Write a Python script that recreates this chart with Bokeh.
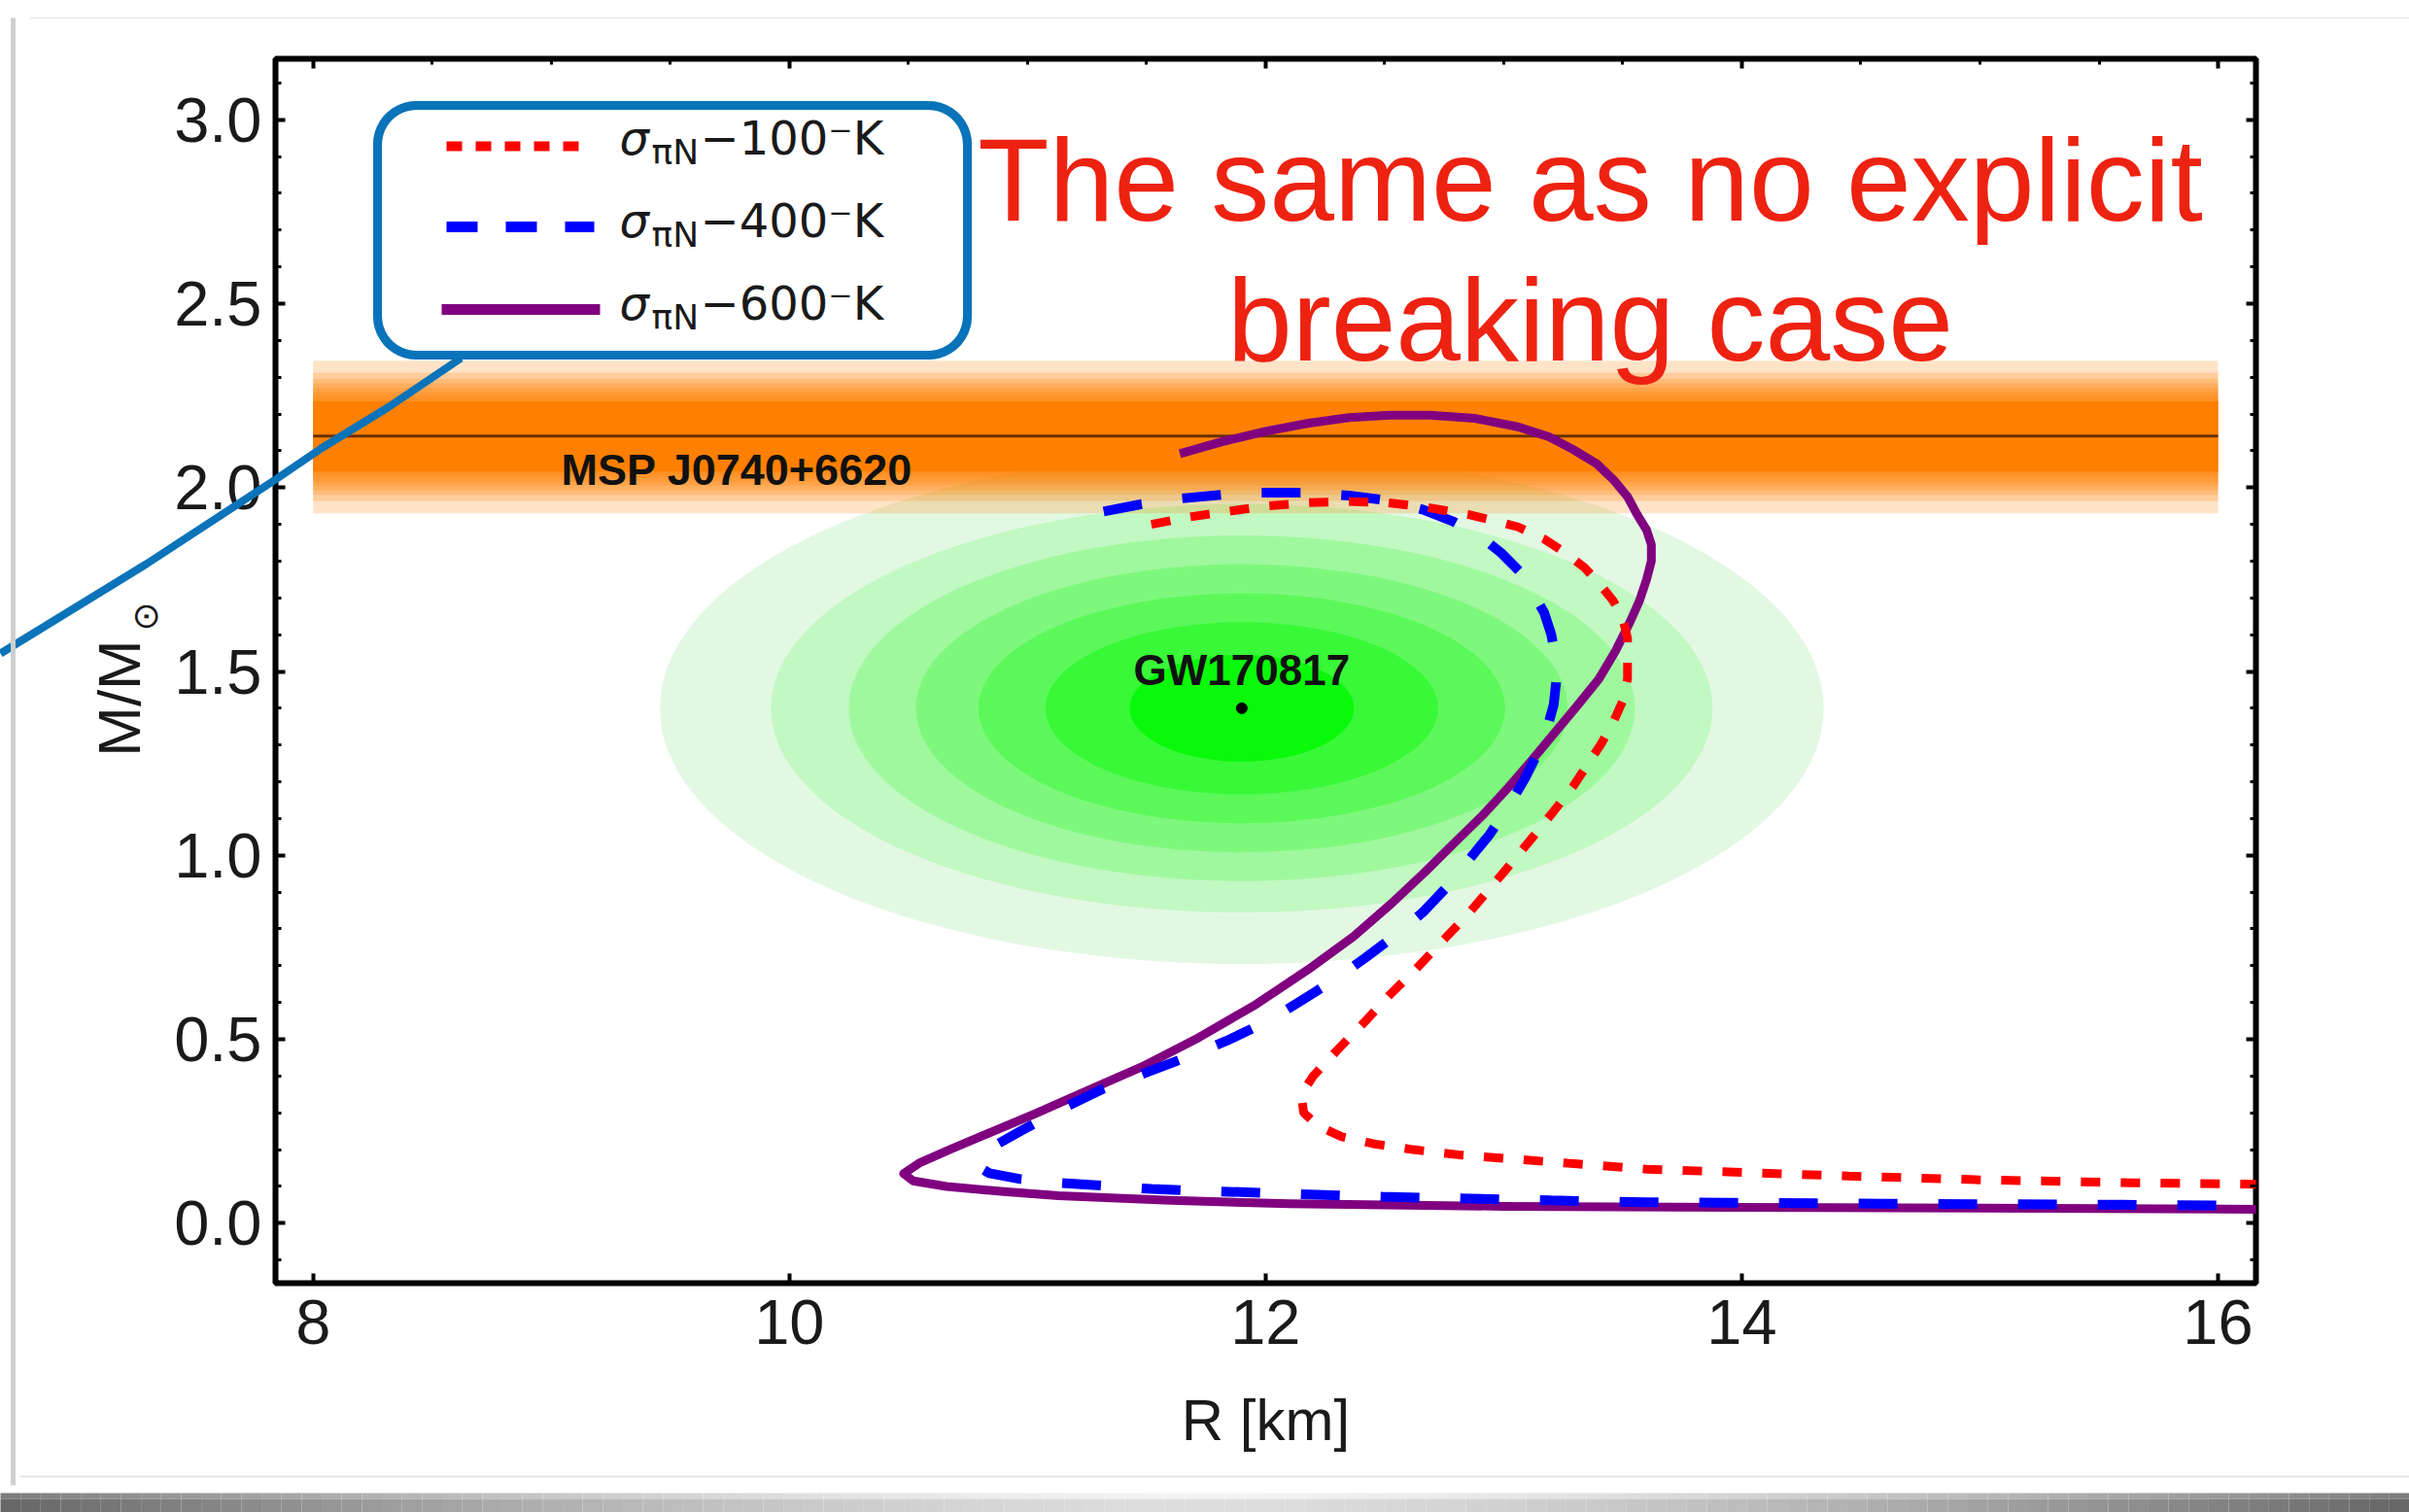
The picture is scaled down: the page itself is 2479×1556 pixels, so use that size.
import numpy as np
from bokeh.plotting import figure
from bokeh.models import Range1d, LinearAxis, FixedTicker, PrintfTickFormatter
from bokeh.core.properties import value
from bokeh.embed import file_html
from bokeh.resources import INLINE

# ---- mass-radius relations (R in km, M in solar masses) ----
r_sigma100 = [11.52, 11.68, 11.84, 12.01, 12.18, 12.35, 12.51, 12.68, 12.85, 12.96, 13.06, 13.17,
              13.26, 13.34, 13.40, 13.46, 13.50, 13.52, 13.52, 13.52, 13.50, 13.46, 13.41, 13.35,
              13.29, 13.21, 13.13, 13.04, 12.95, 12.85, 12.74, 12.63, 12.52, 12.42, 12.30, 12.20,
              12.15, 12.16, 12.22, 12.32, 12.46, 12.62, 12.81, 13.27, 13.60, 14.45, 15.00, 15.64,
              16.17]
m_sigma100 = [1.900, 1.920, 1.935, 1.950, 1.959, 1.962, 1.959, 1.946, 1.927, 1.910, 1.893, 1.860,
              1.822, 1.782, 1.740, 1.692, 1.644, 1.590, 1.539, 1.480, 1.420, 1.362, 1.304, 1.245,
              1.186, 1.120, 1.056, 0.985, 0.916, 0.840, 0.765, 0.690, 0.620, 0.550, 0.470, 0.400,
              0.350, 0.300, 0.265, 0.235, 0.215, 0.200, 0.186, 0.163, 0.147, 0.128, 0.118, 0.110,
              0.106]

r_sigma400 = [11.32, 11.48, 11.64, 11.91, 12.18, 12.35, 12.51, 12.66, 12.79, 12.90, 12.99, 13.07,
              13.12, 13.17, 13.20, 13.22, 13.22, 13.21, 13.18, 13.14, 13.09, 13.02, 12.94, 12.85,
              12.76, 12.66, 12.55, 12.42, 12.29, 12.15, 12.01, 11.85, 11.68, 11.50, 11.32, 11.14,
              10.97, 10.86, 10.80, 10.79, 10.84, 10.97, 11.13, 11.52, 12.00, 12.49, 13.20, 13.60,
              14.60, 15.60, 16.17]
m_sigma400 = [1.935, 1.955, 1.970, 1.986, 1.986, 1.978, 1.965, 1.940, 1.907, 1.868, 1.822, 1.770,
              1.716, 1.660, 1.600, 1.528, 1.470, 1.410, 1.340, 1.275, 1.210, 1.133, 1.056, 0.985,
              0.913, 0.845, 0.785, 0.722, 0.662, 0.605, 0.550, 0.500, 0.454, 0.410, 0.366, 0.310,
              0.250, 0.210, 0.180, 0.155, 0.136, 0.120, 0.110, 0.093, 0.082, 0.072, 0.062, 0.057,
              0.053, 0.050, 0.048]

r_sigma600 = [11.64, 11.82, 12.00, 12.18, 12.35, 12.52, 12.69, 12.88, 13.06, 13.19, 13.29, 13.39,
              13.46, 13.52, 13.56, 13.60, 13.62, 13.62, 13.60, 13.57, 13.53, 13.47, 13.40, 13.31,
              13.22, 13.12, 13.02, 12.91, 12.79, 12.67, 12.53, 12.37, 12.18, 11.96, 11.72, 11.48,
              11.24, 11.03, 10.85, 10.68, 10.55, 10.48, 10.52, 10.66, 10.90, 11.13, 11.60, 12.10,
              13.00, 14.00, 15.00, 16.17]
m_sigma600 = [2.092, 2.125, 2.153, 2.175, 2.190, 2.197, 2.197, 2.188, 2.165, 2.138, 2.104, 2.065,
              2.022, 1.975, 1.927, 1.885, 1.845, 1.800, 1.750, 1.692, 1.634, 1.556, 1.480, 1.408,
              1.338, 1.260, 1.185, 1.108, 1.032, 0.955, 0.870, 0.780, 0.690, 0.595, 0.505, 0.425,
              0.357, 0.297, 0.248, 0.202, 0.165, 0.135, 0.115, 0.100, 0.086, 0.075, 0.062, 0.053,
              0.046, 0.043, 0.041, 0.038]

series_labels = ["100", "400", "600"]

# ---- GW170817 constraint: nested contours around the central estimate ----
gw_r, gw_m = 11.9, 1.4
gw_half_r = [2.444, 1.977, 1.651, 1.369, 1.106, 0.824, 0.471]
gw_half_m = [0.695, 0.555, 0.470, 0.392, 0.313, 0.234, 0.145]
gw_colors = ["#e3f8e3", "#c2f8c2", "#a0f89e", "#7ef87c", "#5cf85a", "#38f838", "#0af80a"]

# ---- MSP J0740+6620 mass measurement ----
msp_mass, msp_upper, msp_lower = 2.14, 2.345, 1.93
msp_r_span = [8.0, 16.0]

x_ticks = [8, 10, 12, 14, 16]
y_ticks = [0.0, 0.5, 1.0, 1.5, 2.0, 2.5, 3.0]

W, H = 2479, 1556


def dx(px):
    """canvas pixel column -> radius"""
    return 8 + (px - 321.7) / 245.04


def dy(py):
    """canvas pixel row -> mass"""
    return (1258.3 - py) / 378.53


p = figure(width=W, height=H, output_backend="svg", toolbar_location=None,
           x_range=Range1d(dx(283), dx(2321)), y_range=Range1d(dy(1320), dy(60)),
           min_border_left=283, min_border_right=W - 2321, min_border_top=60,
           min_border_bottom=H - 1320)
p.grid.grid_line_color = None
p.background_fill_color = "white"
p.border_fill_color = "white"
p.outline_line_color = "black"
p.outline_line_width = 6

LABEL_FONT = "Liberation Sans"
INK = "#1a1a1a"

bottom = p.below[0]
bottom.ticker = FixedTicker(ticks=x_ticks, minor_ticks=[])
left = p.left[0]
minor_y = [round(-0.1 + 0.1 * k, 1) for k in range(33)]
left.ticker = FixedTicker(ticks=y_ticks, minor_ticks=minor_y)
left.formatter = PrintfTickFormatter(format="%.1f")

minor_x = [8 + 0.5 * k for k in range(17)]
top = LinearAxis(ticker=FixedTicker(ticks=x_ticks, minor_ticks=minor_x))
right = LinearAxis(ticker=FixedTicker(ticks=y_ticks, minor_ticks=minor_y))
p.add_layout(top, "above")
p.add_layout(right, "right")

for ax in (bottom, left, top, right):
    ax.axis_line_color = None
    ax.major_tick_in = 10
    ax.major_tick_out = 0
    ax.major_tick_line_width = 4
    ax.major_tick_line_color = "black"
    ax.minor_tick_in = 6
    ax.minor_tick_out = 0
    ax.minor_tick_line_width = 3
    ax.minor_tick_line_color = "black"
    ax.major_label_text_font = LABEL_FONT
    ax.major_label_text_font_size = "65px"
    ax.major_label_text_color = INK

for ax in (top, right):
    ax.major_label_text_font_size = "1px"
    ax.major_label_text_alpha = 0
    ax.major_label_standoff = 0

bottom.minor_tick_line_color = None
bottom.major_label_standoff = 17
left.major_label_standoff = 14
bottom.axis_label = "R [km]"
bottom.axis_label_text_font = LABEL_FONT
bottom.axis_label_text_font_size = "60px"
bottom.axis_label_text_font_style = "normal"
bottom.axis_label_text_color = INK
bottom.axis_label_standoff = 42

# y axis title, with the sun symbol as a subscript
p.text(x=[dx(122)], y=[dy(718)], text=["M/M"], angle=np.pi / 2,
       text_align="center", text_baseline="middle", text_font=value(LABEL_FONT),
       text_font_size="62px", text_color=INK, level="overlay")
p.text(x=[dx(149)], y=[dy(634)], text=["⊙"], angle=np.pi / 2,
       text_align="center", text_baseline="middle", text_font=value("DejaVu Sans"),
       text_font_size="36px", text_color=INK, level="overlay")

# GW170817 contours
p.ellipse(x=[gw_r] * len(gw_half_r), y=[gw_m] * len(gw_half_m),
          width=[2 * w for w in gw_half_r], height=[2 * h for h in gw_half_m],
          fill_color=gw_colors, line_color=None)

# MSP J0740+6620 band, soft edges built from stacked translucent layers
fracs = [1.0, 0.84, 0.76, 0.70, 0.64, 0.59, 0.54, 0.50]
band_top = [msp_mass + f * (msp_upper - msp_mass) for f in fracs]
band_bot = [msp_mass - f * (msp_mass - msp_lower) for f in fracs]
p.quad(left=[msp_r_span[0]] * len(fracs), right=[msp_r_span[1]] * len(fracs),
       top=band_top, bottom=band_bot, fill_color="#ff8000", fill_alpha=0.22, line_color=None)
core = 0.46
p.quad(left=[msp_r_span[0]], right=[msp_r_span[1]],
       top=[msp_mass + core * (msp_upper - msp_mass)],
       bottom=[msp_mass - core * (msp_mass - msp_lower)],
       fill_color="#ff8000", line_color=None)
p.line(msp_r_span, [msp_mass, msp_mass], line_color="#6b3000", line_width=3)
p.text(x=[dx(577)], y=[dy(483)], text=["MSP J0740+6620"], text_font=value(LABEL_FONT),
       text_font_style="bold", text_font_size="45px", text_color="#111111",
       text_baseline="middle", text_align="left")

p.text(x=[gw_r], y=[dy(689)], text=["GW170817"], text_font=value(LABEL_FONT),
       text_font_style="bold", text_font_size="44px", text_color="#111111",
       text_baseline="middle", text_align="center")
p.scatter(x=[gw_r], y=[gw_m], size=11, color="black")

# mass-radius curves
p.line(r_sigma600, m_sigma600, line_color="#800080", line_width=9, line_join="round")
p.line(r_sigma400, m_sigma400, line_color="#0000ff", line_width=10, line_dash="40 42")
p.line(r_sigma100, m_sigma100, line_color="#ff0000", line_width=9, line_dash="20 21")

# annotation text
p.text(x=[dx(1636)] * 2, y=[dy(184), dy(328)],
       text=["The same as no explicit", "breaking case"],
       text_font=value(LABEL_FONT), text_font_size="120px", text_color="#ee2211",
       text_align="center", text_baseline="middle")


# legend inside a rounded call-out box
def rounded_rect_px(x0, y0, x1, y1, r, n=12):
    pts = []
    corners = [(x1 - r, y0 + r, -90, 0), (x1 - r, y1 - r, 0, 90),
               (x0 + r, y1 - r, 90, 180), (x0 + r, y0 + r, 180, 270)]
    for cx, cy, a0, a1 in corners:
        for t in np.linspace(np.radians(a0), np.radians(a1), n):
            pts.append((cx + r * np.cos(t), cy + r * np.sin(t)))
    pts.append(pts[0])
    return [dx(a) for a, _ in pts], [dy(b) for _, b in pts]


CALLOUT = "#0a73b9"
for (x0, y0, x1, y1, r, lw, la) in [(388, 108, 995, 365, 40, 9, 1.0),
                                     (385, 105, 998, 368, 43, 3, 0.55),
                                     (391, 111, 992, 362, 37, 3, 0.55)]:
    bx, by = rounded_rect_px(x0, y0, x1, y1, r)
    p.line(bx, by, line_color=CALLOUT, line_width=lw, line_alpha=la, line_join="round")

tail_px = [(474, 368), (400, 418), (330, 461), (283, 493), (150, 580), (0, 672)]
p.line([dx(a) for a, _ in tail_px], [dy(b) for _, b in tail_px],
       line_color=CALLOUT, line_width=8, line_join="round", level="overlay")

rows = [(150, 141.5, "#ff0000", 10, "16 14", 459, 596),
        (233, 226.5, "#0000ff", 11, "32 29", 459, 611),
        (318, 311.5, "#800080", 11, "solid", 454, 617)]
for (ly, mid, col, lw, dash, x0, x1), lab in zip(rows, series_labels):
    p.line([dx(x0), dx(x1)], [dy(ly), dy(ly)], line_color=col, line_width=lw, line_dash=dash)
    p.text(x=[dx(637)], y=[dy(mid)], text=["σ"], text_font=value("DejaVu Sans"),
           text_font_style="italic", text_font_size="48px", text_color=INK,
           text_baseline="middle")
    p.text(x=[dx(670)], y=[dy(mid + 14)], text=["πN"], text_font=value("DejaVu Sans"),
           text_font_size="36px", text_color=INK, text_baseline="middle")
    p.text(x=[dx(720)], y=[dy(mid)], text=["−" + lab + "⁻K"], text_font=value("DejaVu Sans"),
           text_font_size="48px", text_color=INK, text_baseline="middle")

# slide edge and drop shadow
p.line([dx(13), dx(13)], [dy(18), dy(1528)], line_color="#cfcfcf", line_width=5, level="overlay")
p.line([dx(30), dx(2479)], [dy(18), dy(18)], line_color="#eeeeee", line_width=2, level="overlay")
p.line([dx(20), dx(2479)], [dy(1519), dy(1519)], line_color="#e6e6e6", line_width=2, level="overlay")
shade_x = np.linspace(0, W, 121)
for a, b in zip(shade_x[:-1], shade_x[1:]):
    mid = (a + b) / 2 / W - 0.5
    g = int(222 - 120 * (2 * abs(mid)) ** 1.6)
    for (t0, t1, lift) in [(1536, 1542, 22), (1542, 1556, 0)]:
        gg = min(255, g + lift)
        p.quad(left=[dx(a)], right=[dx(b)], top=[dy(t0)], bottom=[dy(t1)],
               fill_color=f"#{gg:02x}{gg:02x}{gg:02x}", line_color=None, level="overlay")

open("out.html", "w").write(file_html(p, INLINE))
